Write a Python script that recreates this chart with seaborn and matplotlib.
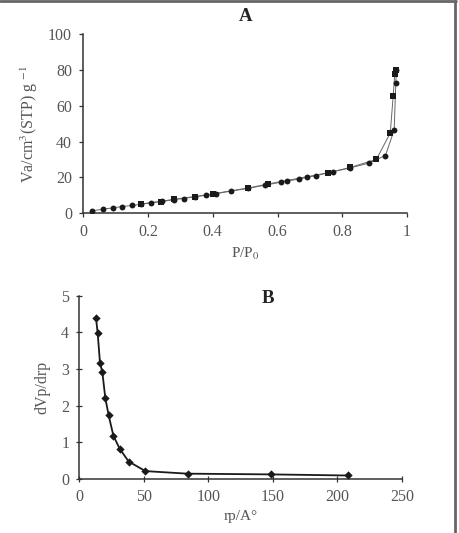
import matplotlib
matplotlib.use("Agg")
import matplotlib.pyplot as plt
import seaborn as sns
import pandas as pd
from matplotlib.lines import Line2D

# Panel A: N2 adsorption / desorption isotherm
ads_p = [0.028, 0.06, 0.092, 0.12, 0.15, 0.18, 0.21, 0.245, 0.28, 0.31, 0.346, 0.379,
         0.41, 0.455, 0.51, 0.56, 0.61, 0.63, 0.665, 0.69, 0.72, 0.772, 0.825, 0.882,
         0.933, 0.96, 0.965, 0.967]
ads_v = [1.3, 2.2, 3.0, 3.7, 4.3, 5.0, 5.9, 6.6, 7.6, 8.2, 9.2, 10.0,
         10.9, 12.3, 13.9, 15.6, 17.3, 18.0, 19.0, 20.0, 21.0, 23.2, 25.3, 28.0,
         32.2, 46.5, 72.5, 80.0]
des_p = [0.967, 0.962, 0.957, 0.948, 0.905, 0.825, 0.757, 0.57, 0.51, 0.40, 0.346,
         0.28, 0.24, 0.18]
des_v = [80.0, 78.0, 65.6, 44.8, 30.0, 25.6, 22.6, 16.3, 14.1, 10.8, 9.3,
         7.8, 6.5, 5.2]

# Panel B: pore size distribution
rp = [13.2, 14.5, 16.3, 18.1, 20.4, 23.0, 26.6, 31.5, 38.5, 51.4, 84.0, 148.6, 208.0]
dvp = [4.39, 3.98, 3.16, 2.92, 2.21, 1.74, 1.19, 0.83, 0.48, 0.22, 0.15, 0.13, 0.10]

xticks_a = [0, 0.2, 0.4, 0.6, 0.8, 1]
xticklabels_a = ["0", "0.2", "0.4", "0.6", "0.8", "1"]
yticks_a = [0, 20, 40, 60, 80, 100]
xticks_b = [0, 50, 100, 150, 200, 250]
yticks_b = [0, 1, 2, 3, 4, 5]

sns.set_style("ticks")
plt.rcParams['font.family'] = ['Liberation Serif', 'DejaVu Serif']
plt.rcParams['mathtext.fontset'] = 'stix'

fig = plt.figure(figsize=(4.59, 5.33), dpi=100)
axA = fig.add_axes([0.181, 0.600, 0.706, 0.336])
axB = fig.add_axes([0.172, 0.101, 0.704, 0.344])

dfa = pd.DataFrame({"p": ads_p, "v": ads_v})
dfd = pd.DataFrame({"p": des_p, "v": des_v})
dfb = pd.DataFrame({"rp": rp, "dvp": dvp})

sns.lineplot(data=dfa, x="p", y="v", ax=axA, color="#666666", lw=0.7, sort=False)
sns.lineplot(data=dfd, x="p", y="v", ax=axA, color="#666666", lw=0.7, sort=False)
sns.scatterplot(data=dfa, x="p", y="v", ax=axA, color="#1a1a1a", marker="o", s=18,
                edgecolor="#1a1a1a", linewidth=0, zorder=3)
sns.scatterplot(data=dfd, x="p", y="v", ax=axA, color="#1a1a1a", marker="s", s=24,
                edgecolor="#1a1a1a", linewidth=0, zorder=3)

sns.lineplot(data=dfb, x="rp", y="dvp", ax=axB, color="#1a1a1a", lw=1.3, sort=False)
sns.scatterplot(data=dfb, x="rp", y="dvp", ax=axB, color="#1a1a1a", marker="D", s=18,
                edgecolor="#1a1a1a", linewidth=0, zorder=3)

tick_color = "#555555"
for ax, direction in ((axA, "out"), (axB, "inout")):
    sns.despine(ax=ax)
    for sp in ("left", "bottom"):
        ax.spines[sp].set_color("#333333")
        ax.spines[sp].set_linewidth(1.1)
    ax.tick_params(axis="both", length=4 if direction == "inout" else 3, width=0.9,
                   color="#333333", direction=direction,
                   labelsize=11.5, labelcolor=tick_color, pad=5)

axA.set_xlim(0, 1)
axA.set_ylim(0, 100)
axA.set_xticks(xticks_a)
axA.set_xticklabels(xticklabels_a)
axA.set_yticks(yticks_a)
axA.set_xlabel("P/P$_0$", fontsize=11, color=tick_color, labelpad=4)
axA.set_ylabel("Va/cm$^3$(STP) g $^{-1}$", fontsize=11.5, color=tick_color, labelpad=6)
axA.text(0.5, 1.05, "A", transform=axA.transAxes, ha="center", va="bottom",
         fontsize=13.5, fontweight="bold", color="#222222")

axB.set_xlim(0, 250)
axB.set_ylim(0, 5)
axB.set_xticks(xticks_b)
axB.set_yticks(yticks_b)
axB.set_xlabel("rp/A°", fontsize=11, color=tick_color, labelpad=4)
axB.set_ylabel("dVp/drp", fontsize=11.5, color=tick_color, labelpad=8)
axB.text(0.585, 0.985, "B", transform=axB.transAxes, ha="center", va="center",
         fontsize=13.5, fontweight="bold", color="#222222")

# partial frame (top and right edges) as in the reference
fig.lines.append(Line2D([0, 0.993], [0.998, 0.998], transform=fig.transFigure,
                        color="#666666", lw=2))
fig.lines.append(Line2D([0.992, 0.992], [0, 0.998], transform=fig.transFigure,
                        color="#666666", lw=2))

fig.savefig("out.png", dpi=100)
